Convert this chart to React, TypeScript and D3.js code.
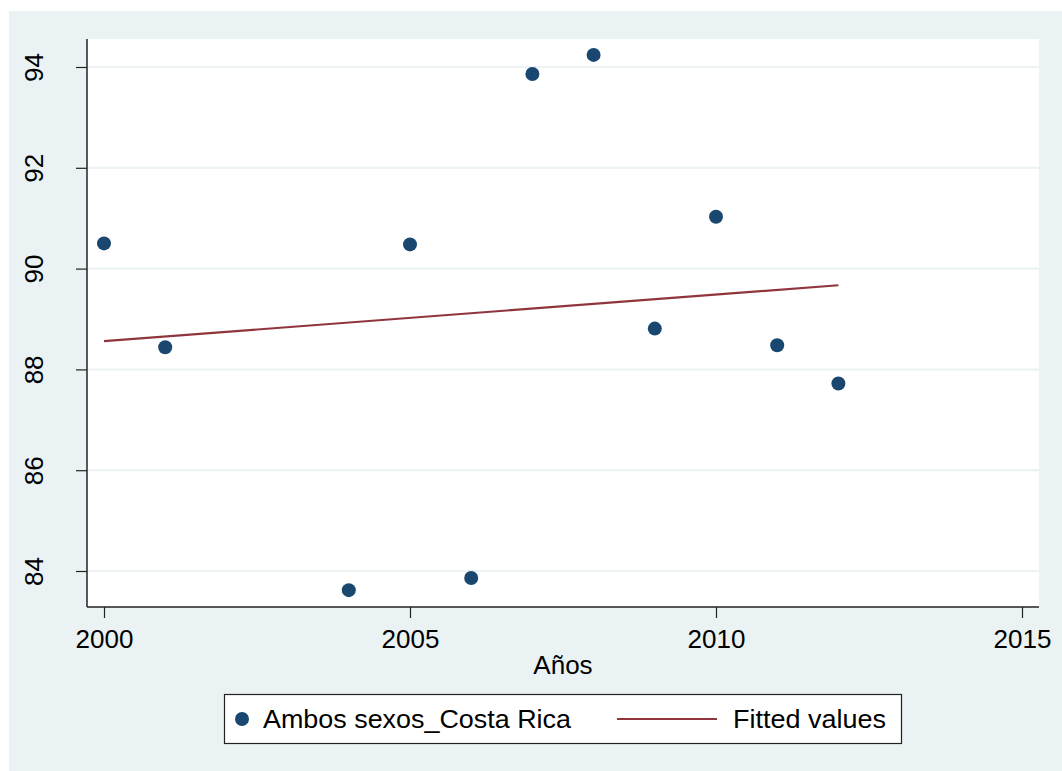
import React, { useEffect, useRef } from 'react';
import * as d3 from 'd3';

// Observed values (Ambos sexos_Costa Rica)
const years = [2000, 2001, 2004, 2005, 2006, 2007, 2008, 2009, 2010, 2011, 2012];
const values = [90.5, 88.44, 83.62, 90.48, 83.86, 93.86, 94.24, 88.81, 91.03, 88.48, 87.72];

// Fitted values (linear fit end points)
const fitYears = [2000, 2012];
const fitValues = [88.56, 89.67];

const xTicks = [2000, 2005, 2010, 2015];
const yTicks = [84, 86, 88, 90, 92, 94];

const seriesLabel = 'Ambos sexos_Costa Rica';
const fitLabel = 'Fitted values';
const xTitle = 'Años';

const App: React.FC = () => {
    const chartRef = useRef<SVGSVGElement>(null);

    useEffect(() => {
        if (!chartRef.current) return;
        d3.select(chartRef.current).selectAll('*').remove();

        const width = 1062;
        const height = 771;
        const plot = { left: 87, right: 1039, top: 39, bottom: 607 };
        const font = '"Liberation Sans", Arial, sans-serif';
        const bg = '#eaf2f3';
        const navy = '#1a476f';
        const maroon = '#90353b';

        const svg = d3.select(chartRef.current)
            .attr('width', width)
            .attr('height', height)
            .attr('viewBox', `0 0 ${width} ${height}`)
            .style('font-family', font);

        // Graph region
        svg.append('rect')
            .attr('x', 9).attr('y', 11)
            .attr('width', width - 9).attr('height', height - 11)
            .attr('fill', bg);

        // Plot region
        svg.append('rect')
            .attr('x', plot.left).attr('y', plot.top)
            .attr('width', plot.right - plot.left)
            .attr('height', plot.bottom - plot.top)
            .attr('fill', '#ffffff');

        const xScale = d3.scaleLinear().domain([2000, 2015]).range([104, 1022]);
        const yScale = d3.scaleLinear().domain([84, 94]).range([571, 67]);

        // Gridlines
        svg.append('g')
            .selectAll('line')
            .data(yTicks)
            .enter()
            .append('line')
            .attr('x1', plot.left + 1)
            .attr('x2', plot.right)
            .attr('y1', d => yScale(d))
            .attr('y2', d => yScale(d))
            .attr('stroke', bg)
            .attr('stroke-width', 2);

        // Y axis
        const yAxis = svg.append('g')
            .attr('transform', `translate(${plot.left},0)`)
            .call(d3.axisLeft(yScale).tickValues(yTicks).tickSize(11).tickFormat(d3.format('d')));
        yAxis.select('.domain').remove();
        yAxis.selectAll('.tick line').attr('stroke', '#222').attr('stroke-width', 1.2);
        yAxis.selectAll('.tick text')
            .attr('font-size', 26)
            .attr('fill', '#000')
            .attr('font-family', font)
            .attr('transform', 'rotate(-90)')
            .attr('x', 0)
            .attr('y', -44)
            .attr('dy', 0)
            .attr('text-anchor', 'middle');
        svg.append('line')
            .attr('x1', plot.left).attr('x2', plot.left)
            .attr('y1', plot.top).attr('y2', plot.bottom)
            .attr('stroke', '#222').attr('stroke-width', 1.5);

        // X axis
        const xAxis = svg.append('g')
            .attr('transform', `translate(0,${plot.bottom})`)
            .call(d3.axisBottom(xScale).tickValues(xTicks).tickSize(11).tickFormat(d3.format('d')));
        xAxis.select('.domain').remove();
        xAxis.selectAll('.tick line').attr('stroke', '#222').attr('stroke-width', 1.2);
        xAxis.selectAll('.tick text')
            .attr('font-size', 26)
            .attr('fill', '#000')
            .attr('font-family', font)
            .attr('y', 41)
            .attr('dy', 0);
        svg.append('line')
            .attr('x1', plot.left).attr('x2', plot.right)
            .attr('y1', plot.bottom).attr('y2', plot.bottom)
            .attr('stroke', '#222').attr('stroke-width', 1.5);

        // X title
        svg.append('text')
            .attr('x', (plot.left + plot.right) / 2)
            .attr('y', 674)
            .attr('text-anchor', 'middle')
            .attr('font-size', 26)
            .text(xTitle);

        // Fitted line
        const fitData = fitYears.map((y, i) => ({ year: y, value: fitValues[i] }));
        const line = d3.line<{ year: number; value: number }>()
            .x(d => xScale(d.year))
            .y(d => yScale(d.value));
        svg.append('path')
            .datum(fitData)
            .attr('d', line)
            .attr('fill', 'none')
            .attr('stroke', maroon)
            .attr('stroke-width', 2.2);

        // Points
        const points = years.map((y, i) => ({ year: y, value: values[i] }));
        svg.append('g')
            .selectAll('circle')
            .data(points)
            .enter()
            .append('circle')
            .attr('cx', d => xScale(d.year))
            .attr('cy', d => yScale(d.value))
            .attr('r', 7)
            .attr('fill', navy);

        // Legend
        const legend = svg.append('g');
        legend.append('rect')
            .attr('x', 224.5).attr('y', 694.5)
            .attr('width', 677).attr('height', 49)
            .attr('fill', '#fff')
            .attr('stroke', '#222')
            .attr('stroke-width', 1.2);
        legend.append('circle')
            .attr('cx', 242).attr('cy', 719).attr('r', 7).attr('fill', navy);
        legend.append('text')
            .attr('x', 263).attr('y', 728)
            .attr('font-size', 26)
            .attr('textLength', 308)
            .attr('lengthAdjust', 'spacingAndGlyphs')
            .text(seriesLabel);
        legend.append('line')
            .attr('x1', 617).attr('x2', 717)
            .attr('y1', 719).attr('y2', 719)
            .attr('stroke', maroon).attr('stroke-width', 2.2);
        legend.append('text')
            .attr('x', 733).attr('y', 728)
            .attr('font-size', 26)
            .attr('textLength', 153)
            .attr('lengthAdjust', 'spacingAndGlyphs')
            .text(fitLabel);
    }, []);

    return (
        <div style={{ position: 'absolute', left: 0, top: 0, background: '#fff' }}>
            <svg ref={chartRef} style={{ display: 'block' }}></svg>
        </div>
    );
};

export default App;
